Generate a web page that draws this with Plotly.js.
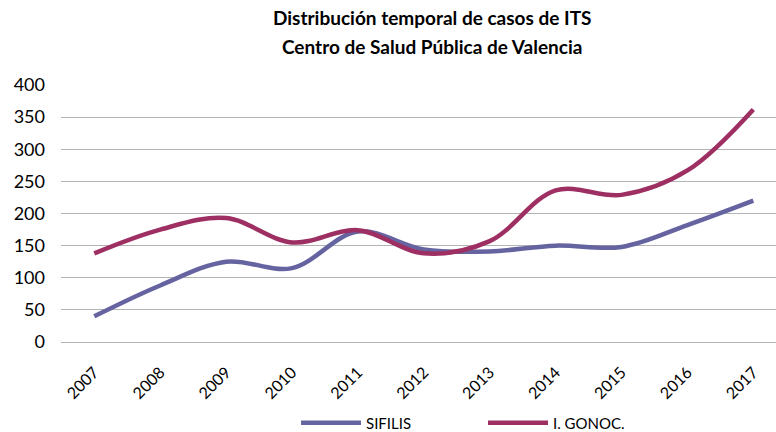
<!DOCTYPE html>
<html>
<head>
<meta charset="utf-8">
<script src="https://cdn.plot.ly/plotly-3.0.1.min.js"></script>
<style>html,body{margin:0;padding:0;background:#fff;}#chart{width:776px;height:432px;}</style>
</head>
<body>
<div id="chart"></div>
<script>
const years = ["2007","2008","2009","2010","2011","2012","2013","2014","2015","2016","2017"];
const sifilis = [40, 88, 125, 115, 172, 144, 141, 150, 148, 182, 220];
const gonoc = [138, 175, 193, 155, 174, 138, 157, 236, 229, 267, 362];
const yTicks = [0, 50, 100, 150, 200, 250, 300, 350, 400];
const titleLines = ["Distribución temporal de casos de ITS", "Centro de Salud Pública de Valencia"];

const font = "Lato, 'Open Sans', sans-serif";
const traces = [
  {x: years, y: sifilis, name: "SIFILIS", type: "scatter", mode: "lines",
   line: {color: "#6564a1", width: 4.5, shape: "spline", smoothing: 1}},
  {x: years, y: gonoc, name: "I. GONOC.", type: "scatter", mode: "lines",
   line: {color: "#9e2f62", width: 4.5, shape: "spline", smoothing: 1}}
];
const layout = {
  width: 776, height: 432,
  margin: {l: 61, r: 0, t: 85, b: 90, autoexpand: false},
  paper_bgcolor: "#fff", plot_bgcolor: "#fff",
  annotations: titleLines.map((t, i) => ({
    text: "<b>" + t + "</b>", xref: "paper", yref: "paper",
    x: (432 - 61) / 715, xanchor: "center",
    y: 1 + (85 - (17 + 29 * i)) / 257, yanchor: "middle",
    showarrow: false, font: {family: font, size: 19, color: "#000"}
  })),
  xaxis: {type: "category", range: [-0.505, 10.344], showgrid: false, showline: false, zeroline: false, automargin: false,
          tickangle: -45, tickfont: {family: font, size: 16, color: "#000"}, ticks: "", ticklabelstandoff: 17},
  yaxis: {range: [0, 400], tickvals: yTicks, ticktext: yTicks.map(String), showgrid: true, gridcolor: "#b4b4b4", gridwidth: 1,
          zeroline: true, zerolinecolor: "#b4b4b4", zerolinewidth: 1, showline: false, ticks: "", automargin: false,
          tickfont: {family: font, size: 18, color: "#000"}, ticklabelstandoff: 15},
  showlegend: true,
  legend: {orientation: "h", x: (296 - 61) / 715, xanchor: "left", y: -(423 - 342) / 257, yanchor: "middle",
           font: {family: font, size: 15, color: "#000"}, itemwidth: 60, entrywidth: 112, entrywidthmode: "pixels"}
};
Plotly.newPlot("chart", traces, layout, {displayModeBar: false, staticPlot: true});
</script>
</body>
</html>
